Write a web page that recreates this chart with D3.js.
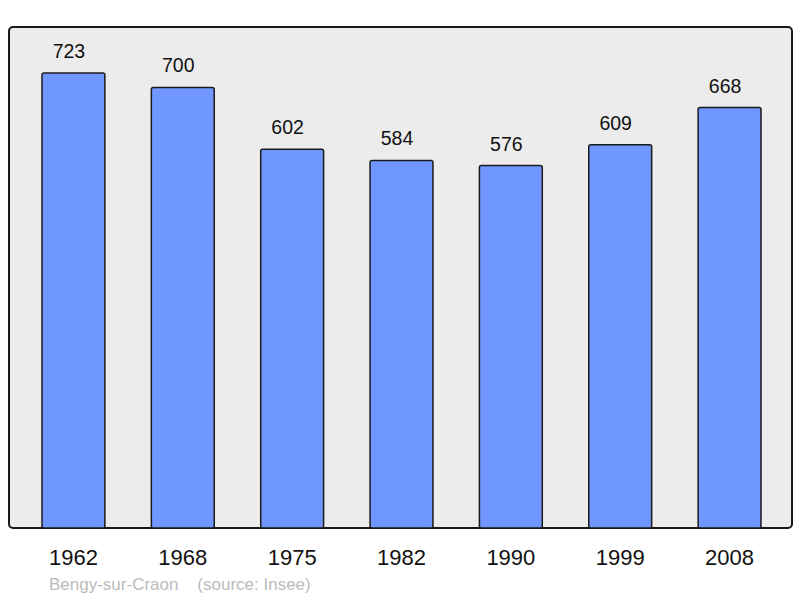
<!DOCTYPE html>
<html><head><meta charset="utf-8">
<script src="https://cdn.jsdelivr.net/npm/d3@7"></script>
<style>body{margin:0;background:#fff}svg{display:block}</style>
</head><body>
<script>
const years = ["1962","1968","1975","1982","1990","1999","2008"];
const population = [723,700,602,584,576,609,668];
const commune = "Bengy-sur-Craon";
const source = "(source: Insee)";

const W = 800, H = 598;
const svg = d3.select("body").append("svg").attr("width", W).attr("height", H);
const font = "'Liberation Sans', Arial, sans-serif";

const panel = {x0: 9, x1: 792, y0: 27, y1: 528};
svg.append("rect").attr("x", panel.x0).attr("y", panel.y0)
  .attr("width", panel.x1 - panel.x0).attr("height", panel.y1 - panel.y0)
  .attr("rx", 4).attr("fill", "#ececec").attr("stroke", "#1a1a1a").attr("stroke-width", 2);

const x = d3.scaleBand().domain(years).range([42, 761]).paddingInner(0.425).paddingOuter(0);
const y = d3.scaleLinear().domain([0, 723]).range([panel.y1, 73]);

const data = years.map((yr, i) => ({yr, v: population[i]}));

svg.selectAll("rect.bar").data(data).join("rect").attr("class", "bar")
  .attr("x", d => x(d.yr)).attr("width", x.bandwidth())
  .attr("y", d => y(d.v)).attr("height", d => panel.y1 - y(d.v))
  .attr("rx", 2).attr("fill", "#7096ff").attr("stroke", "#1a1a1a").attr("stroke-width", 1.5);

svg.selectAll("text.val").data(data).join("text").attr("class", "val")
  .attr("x", d => x(d.yr) + x.bandwidth() / 2 - 4.5).attr("y", d => y(d.v) - 15)
  .attr("text-anchor", "middle").attr("font-family", font).attr("font-size", 19.5)
  .attr("fill", "#111").text(d => d.v);

const xAxis = svg.append("g").attr("transform", `translate(0,${panel.y1})`)
  .call(d3.axisBottom(x).tickSize(0).tickPadding(0));
xAxis.select(".domain").remove();
xAxis.selectAll("text").attr("font-family", font).attr("font-size", 22).attr("fill", "#111")
  .attr("dy", null).attr("y", 37);

svg.append("text").attr("x", 49).attr("y", 590).attr("font-family", font).attr("font-size", 17)
  .attr("fill", "#bbbbbb").attr("xml:space", "preserve").text(commune + "    " + source);
</script>
</body></html>
